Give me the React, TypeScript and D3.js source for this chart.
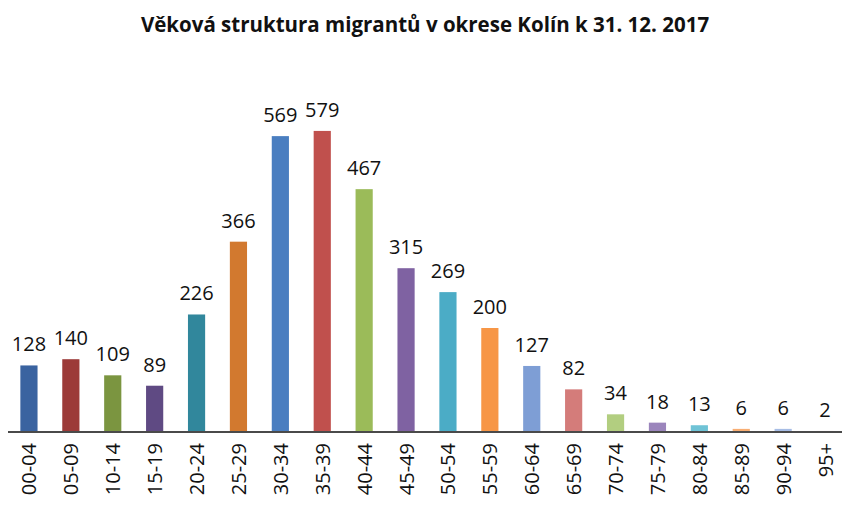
import React, { useRef, useEffect } from 'react';
import * as d3 from 'd3';

const TITLE = 'Věková struktura migrantů v okrese Kolín k 31. 12. 2017';

const AGE_GROUPS = [
  '00-04', '05-09', '10-14', '15-19', '20-24', '25-29', '30-34', '35-39', '40-44', '45-49',
  '50-54', '55-59', '60-64', '65-69', '70-74', '75-79', '80-84', '85-89', '90-94', '95+',
];

const COUNTS = [128, 140, 109, 89, 226, 366, 569, 579, 467, 315, 269, 200, 127, 82, 34, 18, 13, 6, 6, 2];

const BAR_COLORS = [
  '#3a63a0', '#9c3a38', '#7b9540', '#5f4a83', '#31879c', '#d2792f',
  '#4a7ec0', '#c0504d', '#9bbb59', '#7f62a2', '#4bacc6', '#f79646',
  '#7e9ed5', '#d47c7a', '#b2ce80', '#9b85bc', '#6fc3d6', '#f8ae73',
  '#a7bde5', '#e0a5a4',
];

const WIDTH = 842;
const HEIGHT = 508;
const FONT = '"Open Sans", "Liberation Sans", sans-serif';

export default function App() {
  const svgRef = useRef<SVGSVGElement>(null);

  useEffect(() => {
    if (!svgRef.current) return;
    const svg = d3.select(svgRef.current);
    svg.selectAll('*').remove();

    const baseline = 432;

    const x = d3.scaleBand<string>()
      .domain(AGE_GROUPS)
      .range([8, 846])
      .paddingInner(0.59)
      .paddingOuter(0.295);

    const y = d3.scaleLinear().domain([0, 700]).range([baseline, 68]);

    // title
    svg.append('text')
      .attr('x', 425)
      .attr('y', 32)
      .attr('text-anchor', 'middle')
      .attr('font-family', FONT)
      .attr('font-size', '20.5px')
      .attr('font-weight', 700)
      .attr('fill', '#111')
      .text(TITLE);

    // bars
    svg.append('g')
      .selectAll('rect')
      .data(COUNTS)
      .join('rect')
      .attr('x', (_d, i) => x(AGE_GROUPS[i])!)
      .attr('y', (d) => y(d))
      .attr('width', x.bandwidth())
      .attr('height', (d) => baseline - y(d))
      .attr('fill', (_d, i) => BAR_COLORS[i]);

    // value labels
    svg.append('g')
      .selectAll('text')
      .data(COUNTS)
      .join('text')
      .attr('x', (_d, i) => x(AGE_GROUPS[i])! + x.bandwidth() / 2)
      .attr('y', (d) => y(d) - 14)
      .attr('text-anchor', 'middle')
      .attr('font-family', FONT)
      .attr('font-size', '20px')
      .attr('fill', '#111')
      .text((d) => d);

    // axis line
    svg.append('line')
      .attr('x1', 8).attr('x2', WIDTH)
      .attr('y1', baseline).attr('y2', baseline)
      .attr('stroke', '#4a4a4a')
      .attr('stroke-width', 2);

    // category labels, rotated
    svg.append('g')
      .selectAll('text')
      .data(AGE_GROUPS)
      .join('text')
      .attr('transform', (d) => `translate(${x(d)! + x.bandwidth() / 2},443) rotate(-90)`)
      .attr('text-anchor', 'end')
      .attr('dominant-baseline', 'central')
      .attr('font-family', FONT)
      .attr('font-size', '20px')
      .attr('fill', '#111')
      .text((d) => d);
  }, []);

  return (
    <svg
      ref={svgRef}
      width={WIDTH}
      height={HEIGHT}
      style={{ position: 'absolute', left: 0, top: 0, background: '#fff' }}
    />
  );
}
